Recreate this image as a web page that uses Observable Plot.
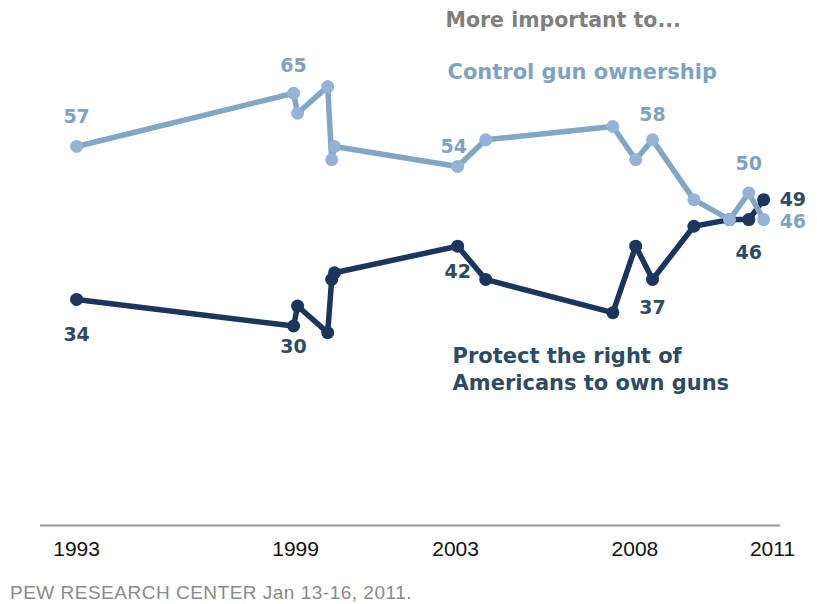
<!DOCTYPE html>
<html>
<head>
<meta charset="utf-8">
<script src="https://cdn.jsdelivr.net/npm/d3@7"></script>
<script src="https://cdn.jsdelivr.net/npm/@observablehq/plot@0.6"></script>
<style>
  html, body { margin: 0; padding: 0; background: #fff; }
  #chart svg { display: block; }
  #caption { font-family: "Liberation Sans", Arial, sans-serif; font-size: 19px; letter-spacing: 0.5px; color: #8a8a8a; padding-left: 10px; margin-top: 8px; line-height: 20px; }
</style>
</head>
<body>
<div id="chart"></div>
<div id="caption">PEW RESEARCH CENTER Jan 13-16, 2011.</div>
<script>
// Survey dates (decimal years, as placed on the time axis)
const dates = [1993.92, 1999.33, 1999.43, 2000.18, 2000.28, 2000.35, 2003.42, 2004.12, 2007.29, 2007.86, 2008.28, 2009.31, 2010.20, 2010.68, 2011.05];
// More important to control gun ownership (%)
const controlValues = [57, 65, 62, 66, 55, 57, 54, 58, 60, 55, 58, 49, 46, 50, 46];
// More important to protect the right of Americans to own guns (%)
const protectValues = [34, 30, 33, 29, 37, 38, 42, 37, 32, 42, 37, 45, 46, 46, 49];
// Axis tick positions and labels
const tickPositions = [1993.92, 1999.38, 2003.37, 2007.84, 2011.27];
const tickLabels = ["1993", "1999", "2003", "2008", "2011"];

const control = dates.map((d, i) => ({date: d, value: controlValues[i], i}));
const protect = dates.map((d, i) => ({date: d, value: protectValues[i], i}));

const numFont = "DejaVu Sans, Verdana, sans-serif";
const controlLine = "#82a7c4", controlDot = "#95b3d7", controlText = "#7fa3bf";
const protectLine = "#1b365d", protectText = "#2f4b62";

function label(data, idx, opts) {
  return Plot.text(data.filter(d => d.i === idx), {
    x: "date", y: "value", text: d => String(d.value),
    fontFamily: numFont, fontWeight: "bold", fontSize: 19,
    ...opts
  });
}

const chart = Plot.plot({
  width: 817,
  height: 575,
  marginLeft: 40,
  marginRight: 37,
  marginTop: 0,
  marginBottom: 50,
  x: {domain: [1993.02, 2011.47]},
  y: {domain: [0, 78.95], axis: null},
  marks: [
    Plot.ruleY([0], {stroke: "#9a9a9a", strokeWidth: 2}),
    Plot.axisX({
      ticks: tickPositions,
      tickFormat: d => tickLabels[tickPositions.indexOf(d)],
      tickSize: 0, tickPadding: 16,
      fontSize: 21, fontFamily: "Liberation Sans, Arial, sans-serif",
      fill: "#111", label: null
    }),
    Plot.line(protect, {x: "date", y: "value", stroke: protectLine, strokeWidth: 5.5, strokeLinejoin: "round"}),
    Plot.dot(protect, {x: "date", y: "value", r: 6.5, fill: protectLine, stroke: "none"}),
    Plot.line(control, {x: "date", y: "value", stroke: controlLine, strokeWidth: 5.5, strokeLinejoin: "round"}),
    Plot.dot(control, {x: "date", y: "value", r: 6.5, fill: controlDot, stroke: "none"}),
    // value labels: control
    label(control, 0, {fill: controlText, dy: -30}),
    label(control, 1, {fill: controlText, dy: -27}),
    label(control, 6, {fill: controlText, dx: -4, dy: -20}),
    label(control, 10, {fill: controlText, dy: -25}),
    label(control, 13, {fill: controlText, dy: -29}),
    label(control, 14, {fill: controlText, dx: 16, dy: 2, textAnchor: "start"}),
    // value labels: protect
    label(protect, 0, {fill: protectText, dy: 35}),
    label(protect, 1, {fill: protectText, dy: 21}),
    label(protect, 6, {fill: protectText, dy: 26}),
    label(protect, 10, {fill: protectText, dy: 28}),
    label(protect, 13, {fill: protectText, dy: 33}),
    label(protect, 14, {fill: protectText, dx: 16, dy: 0, textAnchor: "start"}),
    // annotations
    Plot.text(["More important to..."], {
      frameAnchor: "top-left", dx: 405, dy: 20, textAnchor: "start", lineAnchor: "middle",
      fontFamily: numFont, fontWeight: "bold", fontSize: 20.5, fill: "#7f7f7f"
    }),
    Plot.text(["Control gun ownership"], {
      frameAnchor: "top-left", dx: 407, dy: 72, textAnchor: "start", lineAnchor: "middle",
      fontFamily: numFont, fontWeight: "bold", fontSize: 21, fill: controlText
    }),
    Plot.text(["Protect the right of\nAmericans to own guns"], {
      frameAnchor: "top-left", dx: 412, dy: 367.5, textAnchor: "start", lineAnchor: "middle",
      lineHeight: 1.29,
      fontFamily: numFont, fontWeight: "bold", fontSize: 21, fill: protectText
    })
  ]
});
document.getElementById("chart").appendChild(chart);
</script>
</body>
</html>
